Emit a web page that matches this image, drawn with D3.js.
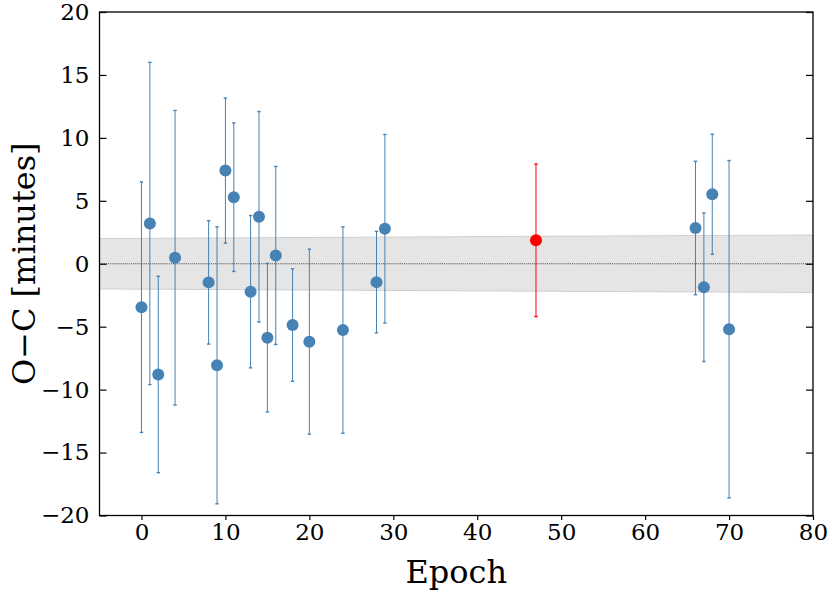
<!DOCTYPE html>
<html>
<head>
<meta charset="utf-8">
<script src="https://cdn.jsdelivr.net/npm/d3@7"></script>
<style>
  body { margin: 0; background: #fff; }
  svg text { font-family: "DejaVu Serif", serif; fill: #000; }
</style>
</head>
<body>
<div id="chart"></div>
<script>
const width = 830, height = 593;
const margin = { top: 12, right: 17, bottom: 77.5, left: 99.5 };

// observed transits
const epochs = [0, 1, 2, 4, 8, 9, 10, 11, 13, 14, 15, 16, 18, 20, 24, 28, 29, 66, 67, 68, 70];
const ocValues = [-3.45, 3.2, -8.8, 0.48, -1.48, -8.07, 7.4, 5.29, -2.22, 3.73, -5.87, 0.66, -4.87, -6.19, -5.27, -1.46, 2.78, 2.84, -1.87, 5.52, -5.2];
const ocErrors = [9.95, 12.8, 7.8, 11.7, 4.9, 11.0, 5.76, 5.9, 6.05, 8.36, 5.9, 7.07, 4.47, 7.35, 8.2, 4.03, 7.49, 5.3, 5.9, 4.77, 13.4];

// highlighted transit
const redEpochs = [47];
const redValues = [1.86];
const redErrors = [6.06];

// ephemeris uncertainty band
const bandEpochs = [-5, 47, 80];
const bandHalf = [2.0, 2.18, 2.28];

const xTicks = [0, 10, 20, 30, 40, 50, 60, 70, 80];
const yTicks = [-20, -15, -10, -5, 0, 5, 10, 15, 20];

const pts = epochs.map((e, i) => ({ e: e, v: ocValues[i], err: ocErrors[i] }));
const redPts = redEpochs.map((e, i) => ({ e: e, v: redValues[i], err: redErrors[i] }));
const band = bandEpochs.map((e, i) => ({ e: e, h: bandHalf[i] }));

const svg = d3.select("#chart").append("svg")
  .attr("width", width)
  .attr("height", height);

const x = d3.scaleLinear().domain([-5, 80]).range([margin.left, width - margin.right]);
const y = d3.scaleLinear().domain([-20, 20]).range([height - margin.bottom, margin.top]);

// band
svg.append("path")
  .datum(band)
  .attr("d", d3.area().x(d => x(d.e)).y0(d => y(-d.h)).y1(d => y(d.h)))
  .attr("fill", "#e5e5e5")
  .attr("stroke", "#cfcfcf")
  .attr("stroke-width", 1);

// zero line
svg.append("line")
  .attr("x1", x(-5)).attr("x2", x(80))
  .attr("y1", y(0)).attr("y2", y(0))
  .attr("stroke", "#333")
  .attr("stroke-width", 0.8)
  .attr("stroke-dasharray", "1.2,0.9");

function drawSeries(data, color, cls) {
  const g = svg.append("g").attr("class", cls);
  g.selectAll(".bar")
    .data(data)
    .join("line")
    .attr("class", "bar")
    .attr("x1", d => x(d.e)).attr("x2", d => x(d.e))
    .attr("y1", d => y(d.v - d.err)).attr("y2", d => y(d.v + d.err))
    .attr("stroke", color)
    .attr("stroke-width", 1);
  const caps = [];
  data.forEach(d => { caps.push({ e: d.e, v: d.v - d.err }); caps.push({ e: d.e, v: d.v + d.err }); });
  g.selectAll(".cap")
    .data(caps)
    .join("line")
    .attr("class", "cap")
    .attr("x1", d => x(d.e) - 1.7).attr("x2", d => x(d.e) + 1.7)
    .attr("y1", d => y(d.v)).attr("y2", d => y(d.v))
    .attr("stroke", color)
    .attr("stroke-width", 1.4);
  g.selectAll(".pt")
    .data(data)
    .join("circle")
    .attr("class", "pt")
    .attr("cx", d => x(d.e))
    .attr("cy", d => y(d.v))
    .attr("r", 6)
    .attr("fill", color);
}

drawSeries(pts, "steelblue", "obs");
drawSeries(redPts, "red", "red");

// axes
const xAxis = d3.axisBottom(x).tickValues(xTicks).tickSize(4.5).tickPadding(4);
svg.append("g")
  .attr("transform", `translate(0,${y(-20)})`)
  .call(xAxis)
  .call(g => g.selectAll("text").attr("font-size", 23).attr("font-family", "DejaVu Serif"));

const yAxis = d3.axisLeft(y).tickValues(yTicks).tickSize(-7).tickPadding(10)
  .tickFormat(d => d < 0 ? "\u2212" + Math.abs(d) : d);
svg.append("g")
  .attr("transform", `translate(${x(-5)},0)`)
  .call(yAxis)
  .call(g => g.selectAll("text").attr("font-size", 23).attr("font-family", "DejaVu Serif"));

const yAxisR = d3.axisRight(y).tickValues(yTicks).tickSize(-7).tickFormat("");
svg.append("g")
  .attr("transform", `translate(${x(80)},0)`)
  .call(yAxisR);

// frame
svg.append("rect")
  .attr("x", x(-5)).attr("y", y(20))
  .attr("width", x(80) - x(-5)).attr("height", y(-20) - y(20))
  .attr("fill", "none")
  .attr("stroke", "#000")
  .attr("stroke-width", 1.3);

svg.selectAll(".domain").remove();
svg.selectAll(".tick line").attr("stroke", "#000").attr("stroke-width", 1.2);

// labels
svg.append("text")
  .attr("x", (x(-5) + x(80)) / 2)
  .attr("y", 583)
  .attr("text-anchor", "middle")
  .attr("font-size", 32)
  .text("Epoch");

svg.append("text")
  .attr("transform", `translate(35,${(y(-20) + y(20)) / 2}) rotate(-90)`)
  .attr("text-anchor", "middle")
  .attr("font-size", 32)
  .text("O\u2212C [minutes]");
</script>
</body>
</html>
